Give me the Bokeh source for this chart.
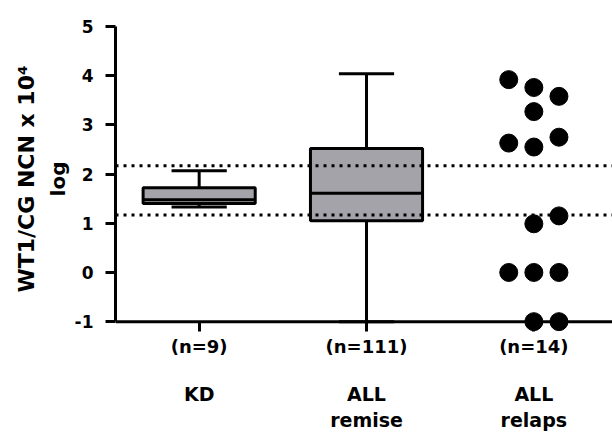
from bokeh.plotting import figure
from bokeh.models import Span, LinearAxis, FixedTicker, Range1d, ColumnDataSource
from bokeh.embed import file_html
from bokeh.resources import INLINE

# ---- data ----
group_positions = [1, 2, 3]
n_labels = ["(n=9)", "(n=111)", "(n=14)"]
label_line1 = ["KD", "ALL", "ALL"]
label_line2 = ["", "remise", "relaps"]

box_pos = [1, 2]
box_min = [1.33, -1.0]
box_q1 = [1.40, 1.05]
box_median = [1.48, 1.61]
box_q3 = [1.72, 2.52]
box_max = [2.07, 4.04]

relaps_pos = 3
relaps_values = [3.92, 3.76, 3.58, 3.27, 2.63, 2.55, 2.75, 0.99, 1.15, 0.0, 0.0, 0.0, -1.0, -1.0]
relaps_column = [-1, 0, 1, 0, -1, 0, 1, 0, 1, -1, 0, 1, 0, 1]

ref_lines = [2.17, 1.17]
y_ticks = [-1, 0, 1, 2, 3, 4, 5]
y_tick_labels = ["-1", "0", "1", "2", "3", "4", "5"]

# ---- style ----
FONT = "DejaVu Sans"
BOX_HALF = 0.335
CAP_HALF = 0.165
JITTER = 0.15
LW = 3

p = figure(width=612, height=433, x_range=Range1d(0.5, 3.47), y_range=Range1d(-1.2, 5.0),
           output_backend="svg", toolbar_location=None,
           min_border_left=115, min_border_right=0, min_border_top=26, min_border_bottom=98)
p.outline_line_color = None
p.xgrid.visible = False
p.ygrid.visible = False
p.background_fill_color = "white"
p.border_fill_color = "white"

src = ColumnDataSource(dict(
    x=box_pos, lo=box_min, q1=box_q1, med=box_median, q3=box_q3, hi=box_max,
    left=[x - BOX_HALF for x in box_pos], right=[x + BOX_HALF for x in box_pos],
    cl=[x - CAP_HALF for x in box_pos], cr=[x + CAP_HALF for x in box_pos],
))
p.segment(x0="x", x1="x", y0="q3", y1="hi", source=src, line_color="black", line_width=LW)
p.segment(x0="x", x1="x", y0="q1", y1="lo", source=src, line_color="black", line_width=LW)
p.segment(x0="cl", x1="cr", y0="hi", y1="hi", source=src, line_color="black", line_width=LW)
p.segment(x0="cl", x1="cr", y0="lo", y1="lo", source=src, line_color="black", line_width=LW)
p.quad(left="left", right="right", bottom="q1", top="q3", source=src,
       fill_color="#a3a3a9", line_color="black", line_width=LW)
p.segment(x0="left", x1="right", y0="med", y1="med", source=src, line_color="black", line_width=LW)

p.scatter(x=[relaps_pos + c * JITTER for c in relaps_column], y=relaps_values,
          size=18, color="black")

for v in ref_lines:
    p.add_layout(Span(location=v, dimension="width", line_color="black",
                      line_width=LW, line_dash="3 5"))

p.add_layout(Span(location=-1, dimension="width", line_color="black", line_width=LW))

# y axis
ya = p.yaxis[0]
ya.ticker = FixedTicker(ticks=y_ticks)
ya.major_label_overrides = {t: s for t, s in zip(y_ticks, y_tick_labels)}
ya.bounds = (-1, 5)
ya.axis_line_width = LW
ya.axis_line_color = "black"
ya.major_tick_line_width = LW
ya.major_tick_out = 10
ya.major_tick_in = 0
ya.minor_tick_line_color = None
ya.major_label_standoff = 12
ya.major_label_text_font = FONT
ya.major_label_text_font_style = "bold"
ya.major_label_text_font_size = "17px"
ya.major_label_text_color = "black"
ya.axis_label = "log"
ya.axis_label_text_font = FONT
ya.axis_label_text_font_style = "bold"
ya.axis_label_text_font_size = "20px"
ya.axis_label_text_color = "black"
ya.axis_label_standoff = 2

ya2 = LinearAxis(axis_label="WT1/CG NCN x 10\u2074", ticker=FixedTicker(ticks=[]),
                 axis_line_color=None, major_tick_line_color=None, minor_tick_line_color=None,
                 major_label_text_font_size="0px", major_label_standoff=0,
                 major_tick_out=0, major_tick_in=0,
                 axis_label_text_font=FONT, axis_label_text_font_style="bold",
                 axis_label_text_font_size="22px", axis_label_text_color="black",
                 axis_label_standoff=4)
p.add_layout(ya2, "left")

def style_x(ax, labels, standoff, size, ticks=False):
    ax.ticker = FixedTicker(ticks=group_positions)
    ax.major_label_overrides = {pos: lab for pos, lab in zip(group_positions, labels)}
    ax.axis_line_color = None
    ax.minor_tick_line_color = None
    if ticks:
        ax.major_tick_line_color = "black"
        ax.major_tick_line_width = LW
        ax.major_tick_in = 10
        ax.major_tick_out = 0
    else:
        ax.major_tick_line_color = None
        ax.major_tick_in = 0
        ax.major_tick_out = 0
    ax.major_label_standoff = standoff
    ax.major_label_text_font = FONT
    ax.major_label_text_font_style = "bold"
    ax.major_label_text_font_size = size
    ax.major_label_text_color = "black"

style_x(p.xaxis[0], n_labels, 4, "18px", ticks=True)
xa2 = LinearAxis()
style_x(xa2, label_line1, 23, "19px")
p.add_layout(xa2, "below")
xa3 = LinearAxis()
style_x(xa3, label_line2, 1, "19px")
p.add_layout(xa3, "below")

open("out.html", "w").write(file_html(p, INLINE))
